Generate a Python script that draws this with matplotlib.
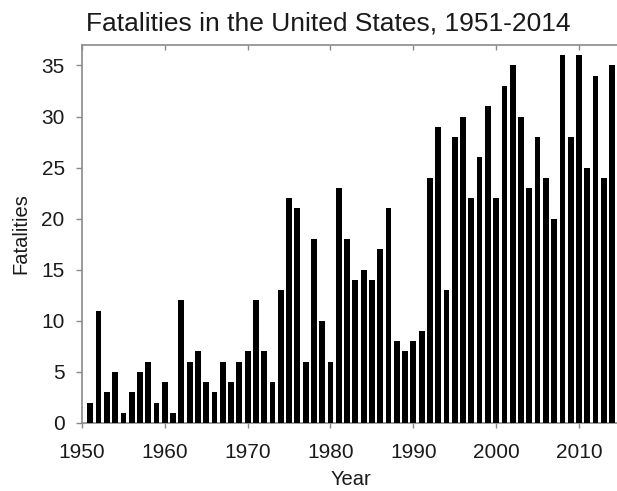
import matplotlib
matplotlib.use("Agg")
import matplotlib.pyplot as plt
import matplotlib.lines as mlines

years = list(range(1951, 2015))
fatalities = [2, 11, 3, 5, 1, 3, 5, 6, 2, 4,
              1, 12, 6, 7, 4, 3, 6, 4, 6, 7,
              12, 7, 4, 13, 22, 21, 6, 18, 10, 6,
              23, 18, 14, 15, 14, 17, 21, 8, 7, 8,
              9, 24, 29, 13, 28, 30, 22, 26, 31, 22,
              33, 35, 30, 23, 28, 24, 20, 36, 28, 36,
              25, 34, 24, 35]
xticks = [1950, 1960, 1970, 1980, 1990, 2000, 2010]
yticks = [0, 5, 10, 15, 20, 25, 30, 35]

plt.rcParams['font.family'] = ['Liberation Sans', 'DejaVu Sans']
W, H = 617, 491
fig = plt.figure(figsize=(W / 100, H / 100), dpi=100)
left, right, top, bottom = 82, 620.4, 45, 423
ax = fig.add_axes([left / W, 1 - bottom / H, (right - left) / W, (bottom - top) / H])

ax.bar(years, fatalities, width=0.7, color='black', edgecolor='black', linewidth=0, zorder=3)

ax.set_xlim(1950, 2015)
ax.set_ylim(0, 37)
ax.set_xticks(xticks)
ax.set_yticks(yticks)

spine_color = '#8a8a8a'
for s in ax.spines.values():
    s.set_color(spine_color)
    s.set_linewidth(1.2)
ax.spines['right'].set_visible(False)

text_color = '#1a1a1a'
ax.tick_params(axis='x', colors=spine_color, labelcolor=text_color, labelsize=15,
               width=1.0, length=3.6, direction='out', top=True, pad=10.5)
ax.tick_params(axis='y', colors=spine_color, labelcolor=text_color, labelsize=15,
               width=1.0, length=4.3, direction='out', pad=8.2)

# top ticks pointing inward
for t in ax.xaxis.get_major_ticks():
    t.tick2line.set_marker(mlines.TICKDOWN)

ax.set_xlabel('Year', fontsize=14.5, color=text_color, labelpad=6)
ax.set_ylabel('Fatalities', fontsize=14.5, color=text_color, labelpad=8)

fig.text(328 / W, 1 - 30 / H, 'Fatalities in the United States, 1951-2014',
         ha='center', va='baseline', fontsize=19, color=text_color)

fig.savefig('out.png', dpi=100, facecolor='white')
